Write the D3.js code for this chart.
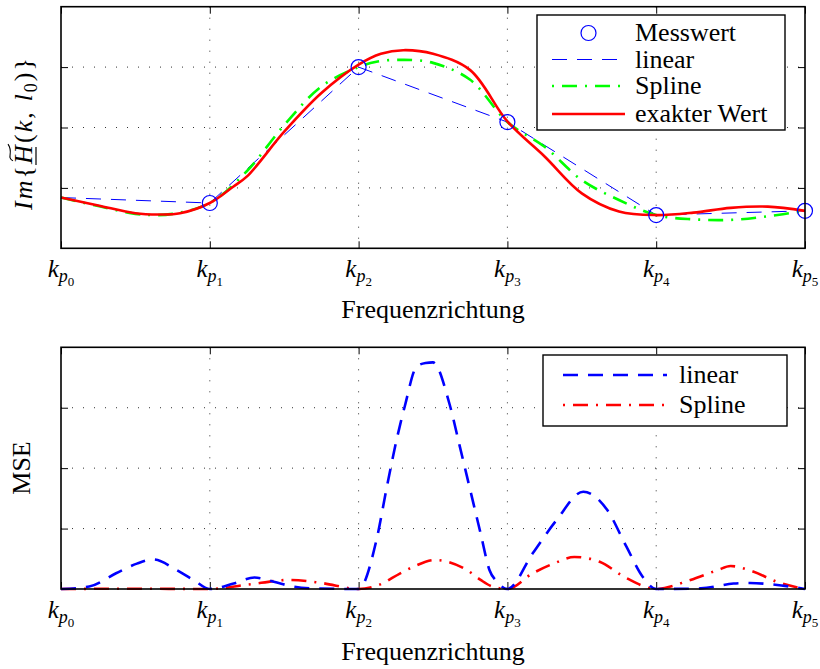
<!DOCTYPE html>
<html>
<head>
<meta charset="utf-8">
<script src="https://cdn.jsdelivr.net/npm/d3@7"></script>
<style>
  body { margin: 0; background: #fff; }
  text { font-family: "Liberation Serif", serif; fill: #000; }
</style>
</head>
<body>
<div id="chart"></div>
<script>
// tick labels k_{p_i}
var kSubs = ['0', '1', '2', '3', '4', '5']
var kPos = [0, 1, 2, 3, 4, 5]
var yTicks = [1, 2, 3]

// top chart: measured values (shown at k1..k5) and interpolations
var messX = [1, 2, 3, 4, 5]
var messY = [0.75, 3.0, 2.09, 0.55, 0.62]
var linearX = [0, 1, 2, 3, 4, 5]
var linearY = [0.84, 0.75, 3.0, 2.09, 0.55, 0.62]
var splineX = [0, 0.25, 0.5, 0.62, 0.75, 1, 1.25, 1.5, 1.75, 2, 2.12, 2.3, 2.5, 2.75, 3, 3.25, 3.5, 3.75, 4, 4.25, 4.5, 4.75, 5]
var splineY = [0.84, 0.70, 0.57, 0.55, 0.57, 0.75, 1.28, 2.04, 2.68, 3.0, 3.09, 3.12, 3.07, 2.79, 2.09, 1.68, 1.13, 0.80, 0.55, 0.48, 0.47, 0.53, 0.62]
var exactX = [0, 0.25, 0.5, 0.665, 0.8, 1, 1.157, 1.25, 1.5, 1.75, 2, 2.15, 2.3, 2.5, 2.75, 3, 3.25, 3.5, 3.75, 4, 4.25, 4.5, 4.75, 5]
var exactY = [0.84, 0.71, 0.58, 0.56, 0.58, 0.75, 1.02, 1.19, 1.93, 2.57, 3.04, 3.22, 3.28, 3.22, 2.95, 2.10, 1.52, 0.91, 0.61, 0.55, 0.59, 0.67, 0.69, 0.62]

// bottom chart: MSE
var mseLinX = [0, 0.19, 0.37, 0.51, 0.62, 0.78, 0.89, 1, 1.16, 1.3, 1.43, 1.56, 1.7, 2, 2.12, 2.19, 2.26, 2.31, 2.39, 2.45, 2.5, 2.61, 2.68, 2.75, 2.82, 2.88, 2.93, 3, 3.17, 3.33, 3.51, 3.67, 3.8, 3.91, 4, 4.3, 4.52, 4.63, 4.8, 5]
var mseLinY = [0, 0.04, 0.26, 0.42, 0.49, 0.31, 0.15, 0, 0.09, 0.19, 0.12, 0.04, 0.01, 0, 0.81, 1.69, 2.52, 3.02, 3.68, 3.74, 3.75, 3.07, 2.36, 1.64, 0.92, 0.31, 0.12, 0, 0.59, 1.14, 1.61, 1.31, 0.70, 0.20, 0, 0.01, 0.09, 0.10, 0.07, 0]
var mseSplX = [0, 0.5, 1, 1.25, 1.54, 1.75, 2, 2.14, 2.28, 2.37, 2.51, 2.73, 2.82, 2.9, 3, 3.17, 3.31, 3.45, 3.62, 3.8, 4, 4.23, 4.41, 4.5, 4.65, 4.81, 5]
var mseSplY = [0, 0.005, 0, 0.07, 0.15, 0.10, 0, 0.07, 0.26, 0.37, 0.48, 0.31, 0.15, 0.04, 0, 0.26, 0.42, 0.53, 0.45, 0.18, 0, 0.15, 0.31, 0.38, 0.29, 0.12, 0]

var zip = (xs, ys) => xs.map((x, i) => [x, ys[i]])

var W = 820, H = 669
var fs = 26
var svg = d3.select('#chart').append('svg')
    .attr('width', W)
    .attr('height', H)

var x = d3.scaleLinear().domain([0, 5]).range([61, 805])

function panel(top, bottom, xlabelY) {
    var y = d3.scaleLinear().domain([0, 4]).range([bottom, top])
    var g = svg.append('g')

    // dotted grid
    g.append('g').selectAll('line')
        .data(kPos.slice(1, -1))
        .enter().append('line')
        .attr('x1', d => x(d)).attr('x2', d => x(d))
        .attr('y1', top).attr('y2', bottom)
        .attr('stroke', '#333').attr('stroke-width', 1)
        .attr('stroke-dasharray', '1,10')
    g.append('g').selectAll('line')
        .data(yTicks)
        .enter().append('line')
        .attr('x1', x(0)).attr('x2', x(5))
        .attr('y1', d => y(d)).attr('y2', d => y(d))
        .attr('stroke', '#333').attr('stroke-width', 1)
        .attr('stroke-dasharray', '1,10')

    // ticks on all four sides, pointing inward
    var tick = 7
    g.append('g').attr('transform', `translate(0, ${bottom})`)
        .call(d3.axisBottom(x).tickValues(kPos).tickSizeInner(-tick).tickSizeOuter(0).tickFormat(''))
    g.append('g').attr('transform', `translate(0, ${top})`)
        .call(d3.axisTop(x).tickValues(kPos).tickSizeInner(-tick).tickSizeOuter(0).tickFormat(''))
    g.append('g').attr('transform', `translate(${x(0)}, 0)`)
        .call(d3.axisLeft(y).tickValues(yTicks).tickSizeInner(-tick).tickSizeOuter(0).tickFormat(''))
    g.append('g').attr('transform', `translate(${x(5)}, 0)`)
        .call(d3.axisRight(y).tickValues(yTicks).tickSizeInner(-tick).tickSizeOuter(0).tickFormat(''))
    g.selectAll('.domain').remove()
    g.selectAll('.tick line').attr('stroke', '#000').attr('stroke-width', 1)

    // tick labels k_{p_i}
    var lab = g.append('g').selectAll('text')
        .data(kPos)
        .enter().append('text')
        .attr('x', d => x(d))
        .attr('y', bottom + 29)
        .attr('text-anchor', 'middle')
        .attr('font-size', 25)
    lab.append('tspan').attr('font-style', 'italic').text('k')
    lab.append('tspan').attr('font-style', 'italic').attr('font-size', 18).attr('dy', 5).text('p')
    lab.append('tspan').attr('font-size', 13).attr('dy', 4).text((d, i) => kSubs[i])

    g.append('text')
        .attr('x', (x(0) + x(5)) / 2)
        .attr('y', xlabelY)
        .attr('text-anchor', 'middle')
        .attr('font-size', fs)
        .text('Frequenzrichtung')

    return {g: g, y: y, top: top, bottom: bottom}
}

function frame(p) {
    p.g.append('rect')
        .attr('x', x(0)).attr('y', p.top)
        .attr('width', x(5) - x(0)).attr('height', p.bottom - p.top)
        .attr('fill', 'none').attr('stroke', '#000').attr('stroke-width', 1.6)
}

var dashed = '15,10'
var dashDot = '15,8,2,8'

// ---- top panel ----
var p1 = panel(6.7, 248.3, 318)
var line1 = d3.line().x(d => x(d[0])).y(d => p1.y(d[1]))
var curve1 = d3.line().x(d => x(d[0])).y(d => p1.y(d[1])).curve(d3.curveCatmullRom.alpha(0.5))

p1.g.append('path').datum(zip(linearX, linearY))
    .attr('d', line1).attr('fill', 'none')
    .attr('stroke', '#0000ff').attr('stroke-width', 1).attr('stroke-dasharray', dashed)
p1.g.append('path').datum(zip(splineX, splineY))
    .attr('d', curve1).attr('fill', 'none')
    .attr('stroke', '#00ff00').attr('stroke-width', 2.6).attr('stroke-dasharray', dashDot)
p1.g.append('path').datum(zip(exactX, exactY))
    .attr('d', curve1).attr('fill', 'none')
    .attr('stroke', '#ff0000').attr('stroke-width', 2.6)
p1.g.append('g').selectAll('circle')
    .data(zip(messX, messY))
    .enter().append('circle')
    .attr('cx', d => x(d[0])).attr('cy', d => p1.y(d[1])).attr('r', 7.5)
    .attr('fill', 'none').attr('stroke', '#0000ff').attr('stroke-width', 1.2)
frame(p1)

// y label: Im{H(k, l0)} with tilde and underline on H
var yl = svg.append('g').attr('transform', 'translate(32, 134) rotate(-90)')
var ylt = yl.append('text').attr('text-anchor', 'middle').attr('font-size', fs)
    .attr('textLength', 152).attr('lengthAdjust', 'spacing')
ylt.append('tspan').attr('font-style', 'italic').text('Im')
ylt.append('tspan').text('{')
ylt.append('tspan').attr('font-style', 'italic').text('H')
ylt.append('tspan').text('(')
ylt.append('tspan').attr('font-style', 'italic').text('k')
ylt.append('tspan').text(', ')
ylt.append('tspan').attr('font-style', 'italic').text('l')
ylt.append('tspan').attr('font-size', 18).attr('dy', 5).text('0')
ylt.append('tspan').attr('dy', -5).text(')}')
var hs = ylt.node().getStartPositionOfChar(3)
var he = ylt.node().getEndPositionOfChar(3)
var hx0 = hs.x + 1, hx1 = he.x - 1, hw = hx1 - hx0
yl.append('path')
    .attr('d', `M${hx0 + 2},-19 C${hx0 + hw * 0.35},-26 ${hx0 + hw * 0.6},-18 ${hx1 + 2},-24`)
    .attr('fill', 'none').attr('stroke', '#000').attr('stroke-width', 1.1)
yl.append('line')
    .attr('x1', hx0 - 2).attr('x2', hx1 - 1).attr('y1', 4).attr('y2', 4)
    .attr('stroke', '#000').attr('stroke-width', 1.2)

// top legend
var leg1 = svg.append('g')
leg1.append('rect').attr('x', 537).attr('y', 15).attr('width', 248).attr('height', 115)
    .attr('fill', '#fff').attr('stroke', '#000').attr('stroke-width', 1.4)
var leg1Items = [
    {label: 'Messwert', y: 33},
    {label: 'linear', y: 59.5},
    {label: 'Spline', y: 86},
    {label: 'exakter Wert', y: 114}
]
leg1.append('circle').attr('cx', 588.5).attr('cy', leg1Items[0].y).attr('r', 7.5)
    .attr('fill', 'none').attr('stroke', '#0000ff').attr('stroke-width', 1.2)
leg1.append('line').attr('x1', 552).attr('x2', 625).attr('y1', leg1Items[1].y).attr('y2', leg1Items[1].y)
    .attr('stroke', '#0000ff').attr('stroke-width', 1).attr('stroke-dasharray', dashed)
leg1.append('line').attr('x1', 552).attr('x2', 625).attr('y1', leg1Items[2].y).attr('y2', leg1Items[2].y)
    .attr('stroke', '#00ff00').attr('stroke-width', 2.6).attr('stroke-dasharray', '2,8,15,8')
leg1.append('line').attr('x1', 552).attr('x2', 625).attr('y1', leg1Items[3].y).attr('y2', leg1Items[3].y)
    .attr('stroke', '#ff0000').attr('stroke-width', 2.6)
leg1.selectAll('text').data(leg1Items).enter().append('text')
    .attr('x', 635).attr('y', d => d.y + 8)
    .attr('font-size', fs)
    .text(d => d.label)

// ---- bottom panel ----
var p2 = panel(347.3, 589, 660)
var curve2 = d3.line().x(d => x(d[0])).y(d => p2.y(d[1])).curve(d3.curveMonotoneX)
p2.g.append('path').datum(zip(mseSplX, mseSplY))
    .attr('d', curve2).attr('fill', 'none')
    .attr('stroke', '#ff0000').attr('stroke-width', 2.6).attr('stroke-dasharray', dashDot)
p2.g.append('path').datum(zip(mseLinX, mseLinY))
    .attr('d', curve2).attr('fill', 'none')
    .attr('stroke', '#0000ff').attr('stroke-width', 2.6).attr('stroke-dasharray', dashed)
frame(p2)

svg.append('text')
    .attr('transform', 'translate(30, 468) rotate(-90)')
    .attr('text-anchor', 'middle')
    .attr('font-size', fs)
    .text('MSE')

// bottom legend
var leg2 = svg.append('g')
leg2.append('rect').attr('x', 543).attr('y', 355).attr('width', 244).attr('height', 71)
    .attr('fill', '#fff').attr('stroke', '#000').attr('stroke-width', 1.4)
leg2.append('line').attr('x1', 563).attr('x2', 667).attr('y1', 375).attr('y2', 375)
    .attr('stroke', '#0000ff').attr('stroke-width', 2.6).attr('stroke-dasharray', dashed)
leg2.append('line').attr('x1', 563).attr('x2', 667).attr('y1', 405).attr('y2', 405)
    .attr('stroke', '#ff0000').attr('stroke-width', 2.6).attr('stroke-dasharray', '2,8,15,8')
leg2.selectAll('text').data([{label: 'linear', y: 375}, {label: 'Spline', y: 405}])
    .enter().append('text')
    .attr('x', 679).attr('y', d => d.y + 8)
    .attr('font-size', fs)
    .text(d => d.label)
</script>
</body>
</html>
